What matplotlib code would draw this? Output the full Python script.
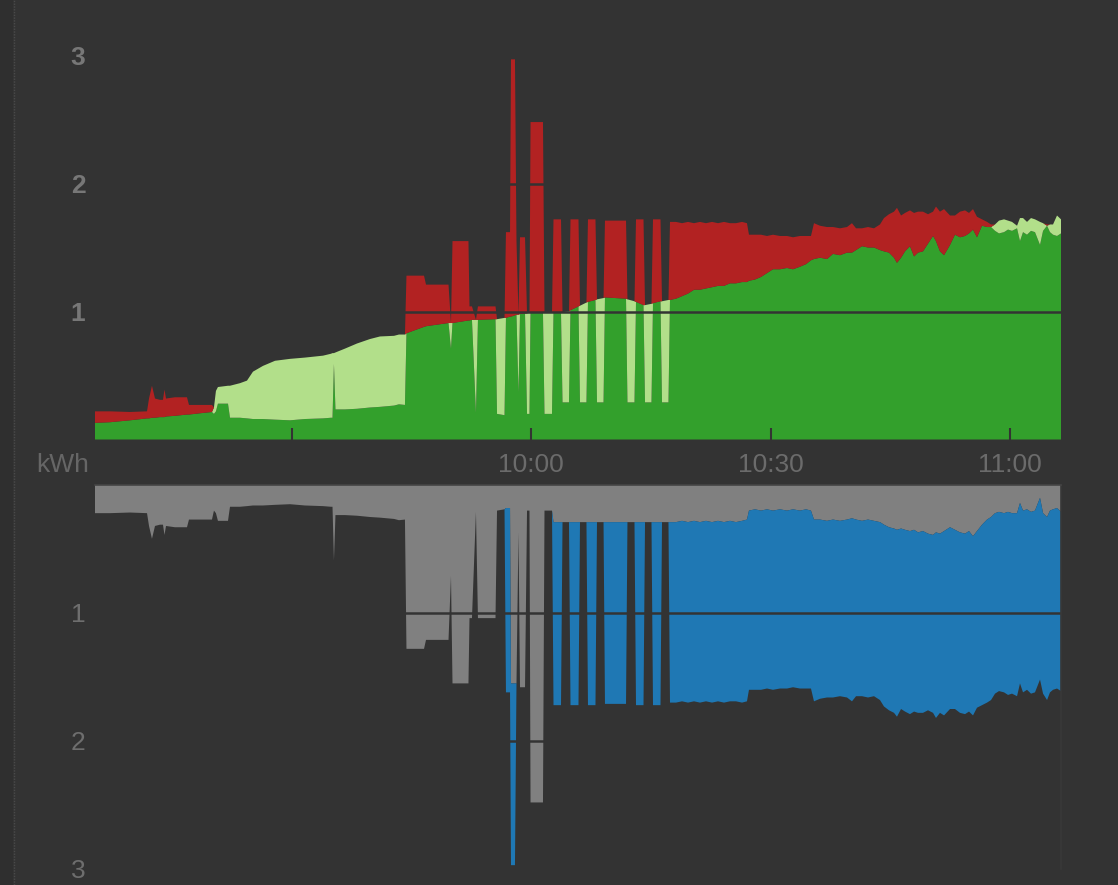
import numpy as np
import matplotlib
matplotlib.use("Agg")
import matplotlib.pyplot as plt
from matplotlib.lines import Line2D
from matplotlib.patches import Rectangle

plt.rcParams['font.family'] = ['Liberation Sans', 'DejaVu Sans']

# ---- data (minutes after 09:00, kWh) ----
minutes = [
    5.31, 7.19, 9.69, 11.83, 12.08, 12.45, 12.83, 13.45, 13.83, 14.02,
    14.21, 15.33, 16.84, 17.09, 18.47, 19.97, 20.22, 20.47, 20.72, 21.98,
    22.23, 23.48, 24.36, 25.11, 26.36, 27.87, 29.75, 31.63, 33.89, 34.89,
    35.08, 35.26, 35.45, 36.64, 38.15, 39.78, 41.03, 42.79, 43.41, 44.16,
    44.35, 46.55, 46.80, 49.62, 49.93, 50.12, 52.12, 52.25, 52.56, 53.06,
    53.31, 55.51, 55.70, 56.64, 56.82, 57.33, 57.45, 57.95, 58.14, 58.39,
    58.58, 59.21, 59.46, 59.77, 59.90, 61.46, 61.65, 62.59, 62.78, 63.72,
    63.91, 64.72, 64.91, 65.91, 66.10, 66.91, 67.10, 68.04, 68.23, 69.05,
    69.23, 71.87, 72.05, 72.93, 73.12, 74.06, 74.25, 75.06, 75.25, 76.19,
    76.38, 77.19,
    77.38, 78.13, 78.89, 79.64, 80.39, 81.14, 81.89, 82.65, 83.40, 84.15,
    84.90, 85.65, 86.41, 87.03, 87.28, 88.04, 88.79, 89.54, 90.29, 91.17,
    92.05, 92.80, 93.68, 94.43, 95.05, 95.43, 96.18, 97.06, 97.81, 98.69,
    99.57, 100.19, 100.70, 101.45, 102.20, 102.95, 103.70, 104.20, 104.83, 105.46,
    105.83, 106.34, 106.84, 107.46, 107.97, 108.47, 109.09, 109.72, 110.35, 110.72,
    111.22, 111.73, 112.48, 113.10, 113.73, 114.36, 114.86, 115.36, 115.86, 116.49,
    117.12, 117.62, 118.12, 118.62, 119.25, 119.75, 120.25, 120.88, 121.25, 121.63,
    122.13, 122.63, 123.13, 123.76, 124.14, 124.64, 125.01, 125.39, 125.89, 126.39,
]

solar_kwh = [
    0.13, 0.135, 0.15, 0.165, 0.165, 0.17, 0.17, 0.175, 0.175, 0.175,
    0.18, 0.185, 0.195, 0.195, 0.205, 0.215, 0.25, 0.38, 0.41, 0.42,
    0.42, 0.44, 0.46, 0.53, 0.575, 0.615, 0.63, 0.64, 0.655, 0.67,
    0.675, 0.675, 0.68, 0.71, 0.75, 0.785, 0.805, 0.81, 0.82, 0.82,
    0.83, 0.88, 0.885, 0.91, 0.91, 0.91, 0.93, 0.93, 0.935, 0.935,
    0.935, 0.94, 0.94, 0.95, 0.95, 0.96, 0.96, 0.97, 0.975, 0.975,
    0.98, 0.985, 0.985, 0.99, 0.99, 0.99, 0.99, 0.99, 0.99, 0.99,
    0.995, 1.00, 1.01, 1.04, 1.045, 1.07, 1.075, 1.09, 1.095, 1.105,
    1.11, 1.10, 1.095, 1.08, 1.075, 1.05, 1.05, 1.06, 1.065, 1.08,
    1.08, 1.09,
    1.09, 1.10, 1.12, 1.14, 1.17, 1.17, 1.18, 1.19, 1.20, 1.20,
    1.22, 1.22, 1.23, 1.23, 1.24, 1.25, 1.27, 1.30, 1.33, 1.33,
    1.34, 1.33, 1.35, 1.37, 1.40, 1.41, 1.42, 1.41, 1.45, 1.44,
    1.46, 1.46, 1.48, 1.51, 1.50, 1.50, 1.48, 1.47, 1.46, 1.42,
    1.38, 1.42, 1.47, 1.51, 1.43, 1.46, 1.47, 1.53, 1.59, 1.55,
    1.47, 1.44, 1.52, 1.60, 1.58, 1.59, 1.61, 1.64, 1.58, 1.67,
    1.66, 1.66, 1.68, 1.71, 1.72, 1.71, 1.70, 1.67, 1.73, 1.73,
    1.70, 1.73, 1.72, 1.70, 1.69, 1.67, 1.68, 1.68, 1.75, 1.72,
]

consumption_kwh = [
    0.22, 0.22, 0.215, 0.22, 0.32, 0.42, 0.32, 0.31, 0.31, 0.39,
    0.32, 0.33, 0.33, 0.27, 0.27, 0.27, 0.20, 0.22, 0.28, 0.28,
    0.17, 0.17, 0.165, 0.16, 0.16, 0.155, 0.15, 0.16, 0.165, 0.17,
    0.17, 0.59, 0.235, 0.235, 0.24, 0.25, 0.255, 0.265, 0.275, 0.27,
    1.28, 1.28, 1.21, 1.21, 0.71, 1.55, 1.55, 1.04, 1.04, 0.21,
    1.04, 1.04, 0.20, 0.19, 1.62, 1.62, 2.97, 2.97, 1.55, 0.37,
    1.58, 1.58, 0.20, 0.20, 2.48, 2.48, 0.20, 0.20, 1.72, 1.72,
    0.29, 0.29, 1.72, 1.72, 0.29, 0.29, 1.72, 1.72, 0.29, 0.29,
    1.71, 1.71, 0.29, 0.29, 1.72, 1.72, 0.29, 0.29, 1.72, 1.72,
    0.29, 0.29,
    1.70, 1.70, 1.69, 1.70, 1.69, 1.70, 1.69, 1.70, 1.69, 1.70,
    1.69, 1.69, 1.70, 1.69, 1.60, 1.60, 1.60, 1.59, 1.60, 1.59,
    1.59, 1.58, 1.59, 1.59, 1.59, 1.69, 1.67, 1.66, 1.66, 1.65,
    1.66, 1.69, 1.65, 1.65, 1.66, 1.65, 1.68, 1.73, 1.76, 1.78,
    1.81, 1.75, 1.77, 1.79, 1.77, 1.78, 1.78, 1.76, 1.78, 1.82,
    1.78, 1.80, 1.75, 1.75, 1.78, 1.79, 1.77, 1.80, 1.74, 1.72,
    1.70, 1.68, 1.63, 1.61, 1.62, 1.64, 1.63, 1.65, 1.55, 1.62,
    1.60, 1.63, 1.62, 1.52, 1.63, 1.68, 1.62, 1.60, 1.59, 1.61,
]

base_load_kwh = [
    0.22, 0.22, 0.215, 0.22, 0.32, 0.42, 0.32, 0.31, 0.31, 0.39,
    0.32, 0.33, 0.33, 0.27, 0.27, 0.27, 0.20, 0.22, 0.28, 0.28,
    0.17, 0.17, 0.165, 0.16, 0.16, 0.155, 0.15, 0.16, 0.165, 0.17,
    0.17, 0.59, 0.235, 0.235, 0.24, 0.25, 0.255, 0.265, 0.275, 0.27,
    1.28, 1.28, 1.21, 1.21, 0.71, 1.55, 1.55, 1.04, 1.04, 0.21,
    1.04, 1.04, 0.20, 0.19, 0.18, 0.18, 1.55, 1.55, 1.55, 0.37,
    1.58, 1.58, 0.20, 0.20, 2.48, 2.48, 0.20, 0.20, 0.29, 0.29,
    0.29, 0.29, 0.29, 0.29, 0.29, 0.29, 0.29, 0.29, 0.29, 0.29,
    0.29, 0.29, 0.29, 0.29, 0.29, 0.29, 0.29, 0.29, 0.29, 0.29,
    0.29, 0.29,
    0.29, 0.29, 0.28, 0.29, 0.28, 0.29, 0.28, 0.29, 0.28, 0.29,
    0.28, 0.29, 0.28, 0.27, 0.20, 0.19, 0.20, 0.19, 0.20, 0.19,
    0.20, 0.19, 0.20, 0.19, 0.20, 0.27, 0.27, 0.28, 0.27, 0.28,
    0.27, 0.26, 0.27, 0.28, 0.27, 0.28, 0.29, 0.31, 0.33, 0.34,
    0.35, 0.34, 0.35, 0.36, 0.35, 0.37, 0.36, 0.38, 0.39, 0.37,
    0.38, 0.36, 0.33, 0.35, 0.37, 0.38, 0.36, 0.40, 0.36, 0.31,
    0.27, 0.25, 0.22, 0.21, 0.22, 0.21, 0.22, 0.22, 0.14, 0.20,
    0.19, 0.21, 0.20, 0.10, 0.22, 0.25, 0.20, 0.19, 0.18, 0.21,
]

tick_minutes = [30, 60, 90, 120]
tick_labels = ["", "10:00", "10:30", "11:00"]
y_ticks = [1, 2, 3]

# ---- styling ----
BG = "#333333"
C_SELF = "#33a02c"
C_EXPORT = "#b2df8a"
C_IMPORT = "#b22222"
C_BASE = "#808080"
C_LOAD = "#1f78b4"

t = np.array(minutes)
s = np.array(solar_kwh)
c = np.array(consumption_kwh)
b = np.array(base_load_kwh)
self_use = np.minimum(s, c)
export = np.clip(s - c, 0, None)
grid_import = np.clip(c - s, 0, None)
load = c - b

W, H = 1118, 885
fig = plt.figure(figsize=(W / 100, H / 100), dpi=100, facecolor=BG)

# left UI strip
fig.patches.append(Rectangle((0, 0), 13 / W, 1, transform=fig.transFigure,
                             facecolor="#2f2f2f", edgecolor="none", zorder=0))
fig.lines.append(Line2D([13.5 / W, 13.5 / W], [0, 1], transform=fig.transFigure,
                        color="#4a4a4a", lw=1, ls=(0, (1, 1))))

ax1 = fig.add_axes([95 / W, (H - 439.5) / H, 966 / W, 384 / H])
ax2 = fig.add_axes([95 / W, (H - 869) / H, 966 / W, 384 / H])

kw = dict(linewidth=0, edgecolor="none")
ax1.fill_between(t, 0, self_use, facecolor=C_SELF, **kw)
ax1.fill_between(t, self_use, self_use + export, facecolor=C_EXPORT, **kw)
ax1.fill_between(t, self_use + export, self_use + export + grid_import,
                 facecolor=C_IMPORT, **kw)

ax2.fill_between(t, 0, b, facecolor=C_BASE, **kw)
ax2.fill_between(t, b, b + load, facecolor=C_LOAD, **kw)

for ax in (ax1, ax2):
    ax.set_facecolor(BG)
    ax.set_xlim(t[0], t[-1])
    ax.set_axisbelow(False)
    ax.grid(axis="y", color=BG, linewidth=1.8)
    ax.grid(axis="x", visible=False)
    ax.set_yticks(y_ticks)
    ax.tick_params(axis="y", length=0, pad=7, labelsize=19)
    for sp in ax.spines.values():
        sp.set_visible(False)

ax1.set_ylim(0, 3)
ax2.set_ylim(3, 0)

ax1.set_xticks(tick_minutes)
ax1.set_xticklabels(tick_labels)
ax1.tick_params(axis="x", direction="in", length=8.6, width=1.5, color=BG,
                labelcolor="#6b6b6b", labelsize=19, pad=10)
for lab in ax1.get_yticklabels():
    lab.set_color("#777777")
    lab.set_fontweight("bold")

ax2.set_xticks(tick_minutes)
ax2.tick_params(axis="x", length=0, labelbottom=False)
for lab in ax2.get_yticklabels():
    lab.set_color("#6e6e6e")

ax2.spines["top"].set_visible(True)
ax2.spines["right"].set_visible(True)
ax2.spines["top"].set_color("#444444")
ax2.spines["right"].set_color("#383838")
for k in ("top", "right"):
    ax2.spines[k].set_linewidth(1.2)
    ax2.spines[k].set_zorder(3)

fig.text(63 / W, 1 - 465 / H, "kWh", ha="center", va="center",
         color="#666666", fontsize=19)

fig.savefig("out.png", dpi=100, facecolor=BG)
